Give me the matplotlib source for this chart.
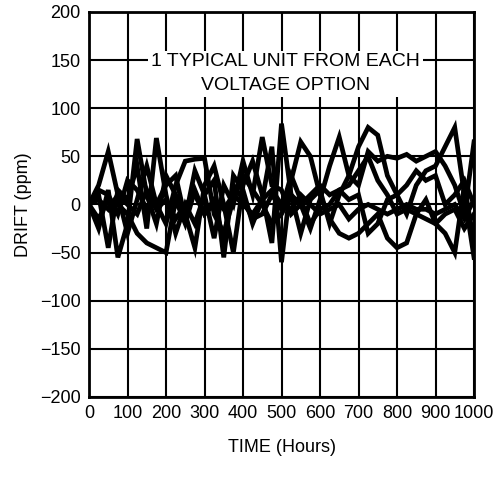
import matplotlib
matplotlib.use("Agg")
import matplotlib.pyplot as plt
import numpy as np

plt.rcParams['font.family'] = ['Liberation Sans', 'DejaVu Sans']

hours = list(range(0, 1001, 25))

unit_a = [0, 20, 55, 10, -30, 5, 40, 0, -20, 20, 45, 47, 48, -10, -30, 5, 30, 15, 0, -20,
          -10, 10, 0, -25, 5, 40, 70, 30, 20, 55, 45, 50, 48, 52, 45, 50, 55, 40, 20, -10, 65]
unit_b = [0, -25, 15, -55, -20, 68, 10, -20, 30, 10, -10, -45, 20, 40, 0, -50, 20, 45, 10, -40,
          84, 10, -30, 5, 15, -20, 10, 30, 60, 80, 72, 30, 10, -10, 20, 35, 40, 60, 80, 10, -55]
unit_c = [0, 10, -45, 15, 5, 40, -25, 69, 10, -30, 0, -20, 10, 25, -55, 30, 15, -20, 5, 60,
          -60, 25, 65, 50, 10, -15, -30, -35, -30, -20, -10, -35, -45, -40, -10, 5, -20, -30, -50, 20, -40]
unit_d = [0, 15, 10, -10, 25, 15, -5, 0, 20, 30, -15, 35, 10, -35, 20, 0, 45, 10, 70, 20,
          15, -10, 0, 10, 20, 10, 15, 5, 10, -30, -20, 5, 10, 20, 35, 25, 30, 0, 10, 25, 0]
unit_e = [0, -15, 5, 0, -10, -30, -40, -45, -50, 5, -20, 15, -10, 0, -35, 20, 5, -15, -10, 10,
          -5, 30, 5, -20, -5, 0, 15, 20, 35, 50, 25, 10, -10, -5, -10, -15, -20, -10, -5, -25, -10]
unit_f = [0, 5, -5, 10, 0, -10, 15, -5, 5, -15, 0, 10, -10, 5, -5, 10, 0, -10, 5, 15,
          0, -5, 10, 0, -10, -5, 0, -15, -5, 0, -5, -10, -5, 0, -5, -5, -10, -5, 0, -15, 5]

x_ticks = list(range(0, 1001, 100))
y_ticks = list(range(-200, 201, 50))

fig = plt.figure(figsize=(5.0, 4.78), dpi=100)
ax = fig.add_axes([0.178, 0.1695, 0.77, 0.8055])

for s in [unit_a, unit_b, unit_c, unit_d, unit_e, unit_f]:
    ax.plot(hours, s, color='black', lw=3.4, solid_joinstyle='miter', zorder=3)

ax.set_xlim(0, 1000)
ax.set_ylim(-200, 200)
ax.set_xticks(x_ticks)
ax.set_yticks(y_ticks)
ax.tick_params(length=0, labelsize=13, pad=6)
ax.grid(True, color='black', lw=1.5)
for sp in ax.spines.values():
    sp.set_linewidth(2)

ax.set_xlabel('TIME (Hours)', fontsize=13, labelpad=12)
ax.set_ylabel('DRIFT (ppm)', fontsize=13, labelpad=6)

ax.text(510, 136, '1 TYPICAL UNIT FROM EACH\nVOLTAGE OPTION', ha='center', va='center',
        fontsize=14, linespacing=1.5, zorder=4,
        bbox=dict(facecolor='white', edgecolor='none', pad=2))

fig.savefig('out.png', dpi=100)
